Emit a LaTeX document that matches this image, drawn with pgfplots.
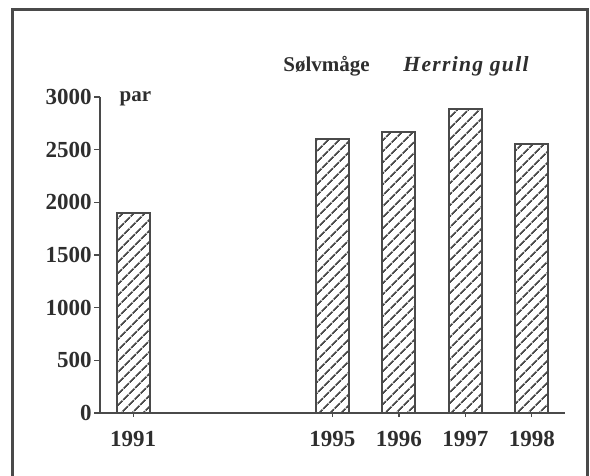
\documentclass[border=0pt]{standalone}
\usepackage{fontspec}
\setmainfont{Liberation Serif}
\usepackage{pgfplots}
\pgfplotsset{compat=1.18}
\usetikzlibrary{patterns.meta}
\definecolor{ink}{HTML}{2E2E2E}
\definecolor{ln}{HTML}{4A4A4A}
\begin{document}
\begin{tikzpicture}
\path[use as bounding box] (0,0) rectangle (295pt,238pt);
\begin{axis}[
  at={(50pt,31.5pt)}, anchor=south west,
  scale only axis, width=232.5pt, height=158pt,
  xmin=-0.5, xmax=6.5, ymin=0, ymax=3000,
  axis x line=bottom, axis y line=left,
  axis line style={ln, line width=1pt, -},
  xtick={0,3,4,5,6}, xticklabels={1991,1995,1996,1997,1998},
  ytick={0,500,...,3000},
  tick align=outside, major tick length=3pt,
  xtick style={ln, line width=0.6pt, /pgfplots/major tick length=2pt},
  ytick style={ln, line width=0.8pt},
  /pgf/number format/assume math mode=true,
  /pgf/number format/set thousands separator={},
  ticklabel style={font=\bfseries\fontsize{11.5}{13}\selectfont, text=ink},
  yticklabel style={inner sep=1pt},
  xticklabel style={yshift=-2.5pt},
  clip=false,
]
\addplot[ybar, bar width=16.5pt, draw=ln, line width=1.05pt,
  pattern={Lines[angle=45, distance=4pt, line width=0.95pt]}, pattern color=ln]
  coordinates {(0,1900) (3,2600) (4,2670) (5,2890) (6,2550)};
\node[anchor=base west, font=\bfseries\fontsize{10.5}{12}\selectfont, text=ink, inner sep=0pt]
  at (axis cs:-0.21,2955) {par};
\end{axis}
\node[anchor=base west, inner sep=0pt, font=\bfseries\fontsize{10.5}{12}\selectfont, text=ink]
  at (141.5pt,202pt) {Sølvmåge};
\node[anchor=base west, inner sep=0pt, font=\bfseries\itshape\fontsize{10.8}{12}\selectfont, text=ink]
  at (201.5pt,202pt) {\addfontfeature{LetterSpace=6}Herring gull};
\draw[ln, line width=1.5pt] (6pt,-2pt) -- (6pt,233pt) -- (293.5pt,233pt) -- (293.5pt,-2pt);
\end{tikzpicture}
\end{document}
